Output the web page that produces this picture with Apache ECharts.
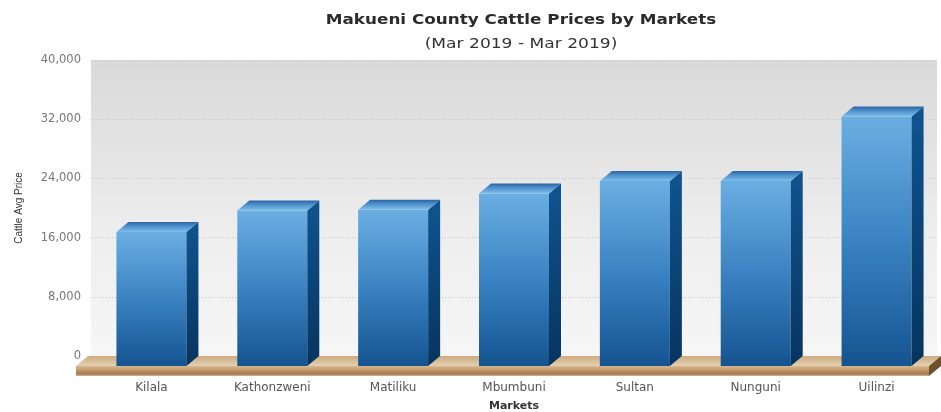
<!DOCTYPE html>
<html>
<head>
<meta charset="utf-8">
<title>Makueni County Cattle Prices by Markets</title>
<script src="https://cdn.jsdelivr.net/npm/echarts@6/dist/echarts.min.js"></script>
<style>
  html, body { margin: 0; padding: 0; background: #ffffff; }
  #chart { width: 941px; height: 412px; }
</style>
</head>
<body>
<div id="chart"></div>
<script>
// Market names along the category axis
const markets = ['Kilala', 'Kathonzweni', 'Matiliku', 'Mbumbuni', 'Sultan', 'Nunguni', 'Uilinzi'];
// Average cattle price per market (KES)
const avgPrices = [18100, 21000, 21100, 23300, 25000, 25000, 33700];
// Value axis ticks
const priceTicks = [0, 8000, 16000, 24000, 32000, 40000];

const chartTitle = 'Makueni County Cattle Prices by Markets';
const chartSubtitle = '(Mar 2019 - Mar 2019)';

// Pseudo-3D extrusion: front faces sit DX left / DY below the back wall
const DX = 12;
const DY = 10;
const BAR_W = 70;

const LG = echarts.graphic.LinearGradient;

const chart = echarts.init(document.getElementById('chart'), null, { renderer: 'canvas' });

function renderBar(params, api) {
  const i = api.value(0);
  const v = api.value(1);
  const topPt = api.coord([i, v]);
  const basePt = api.coord([i, 0]);
  const half = BAR_W / 2;
  const x0 = topPt[0] - half;
  const x1 = topPt[0] + half;
  const y0 = topPt[1] + DY;
  const y1 = basePt[1] + DY;
  return {
    type: 'group',
    children: [
      {
        type: 'rect',
        shape: { x: x0, y: y0, width: BAR_W, height: y1 - y0 },
        style: {
          fill: new LG(0, 0, 0, 1, [
            { offset: 0, color: '#6aaee2' },
            { offset: 0.5, color: '#3a82c2' },
            { offset: 1, color: '#145490' }
          ])
        }
      },
      {
        type: 'polygon',
        shape: { points: [[x1, y0], [x1 + DX, y0 - DY], [x1 + DX, y1 - DY], [x1, y1]] },
        style: {
          fill: new LG(0, 0, 0, 1, [
            { offset: 0, color: '#0f5490' },
            { offset: 1, color: '#07345f' }
          ])
        }
      },
      {
        type: 'polygon',
        shape: { points: [[x0, y0], [x0 + DX, y0 - DY], [x1 + DX, y0 - DY], [x1, y0]] },
        style: {
          fill: new LG(0, 1, 0, 0, [
            { offset: 0, color: '#80bfeb' },
            { offset: 0.6, color: '#4d8fcb' },
            { offset: 1, color: '#2a66a3' }
          ])
        }
      }
    ]
  };
}

function renderFloor(params, api) {
  const cs = params.coordSys;
  const left = cs.x;
  const right = cs.x + cs.width;
  const yb = cs.y + cs.height;
  const lx = left - 3;
  const rx = right + 4;
  return {
    type: 'group',
    children: [
      {
        type: 'polygon',
        shape: { points: [[lx, yb], [rx, yb], [rx - DX, yb + DY], [lx - DX, yb + DY]] },
        style: {
          fill: new LG(0, 0, 0, 1, [
            { offset: 0, color: '#cdab80' },
            { offset: 1, color: '#e4d0b2' }
          ])
        }
      },
      {
        type: 'rect',
        shape: { x: lx - DX, y: yb + DY, width: rx - lx, height: 10 },
        style: {
          fill: new LG(0, 0, 0, 1, [
            { offset: 0, color: '#d8b990' },
            { offset: 0.55, color: '#b58d60' },
            { offset: 0.8, color: '#a47c50' },
            { offset: 1, color: '#cfb99c' }
          ])
        }
      },
      {
        type: 'polygon',
        shape: { points: [[rx - DX, yb + DY], [rx, yb], [rx, yb + 10], [rx - DX, yb + DY + 10]] },
        style: { fill: '#6e4f2e' }
      }
    ]
  };
}

const option = {
  backgroundColor: '#ffffff',
  animation: false,
  // Title lines are set a little wide to suit the page heading style
  graphic: [
    {
      type: 'text',
      x: 521,
      y: 20,
      scaleX: 1.2,
      style: {
        text: chartTitle,
        fontFamily: 'DejaVu Sans',
        fontSize: 14,
        fontWeight: 'bold',
        fill: '#2b2b2b',
        align: 'center',
        verticalAlign: 'middle'
      }
    },
    {
      type: 'text',
      x: 521,
      y: 44,
      scaleX: 1.22,
      style: {
        text: chartSubtitle,
        fontFamily: 'DejaVu Sans',
        fontSize: 14,
        fill: '#333333',
        align: 'center',
        verticalAlign: 'middle'
      }
    }
  ],
  grid: {
    left: 91,
    right: 4,
    top: 60,
    bottom: 56,
    outerBoundsMode: 'none',
    show: true,
    borderWidth: 0,
    backgroundColor: new LG(0, 0, 0, 1, [
      { offset: 0, color: '#d9d9d9' },
      { offset: 0.6, color: '#eeeeee' },
      { offset: 1, color: '#f6f6f6' }
    ])
  },
  xAxis: {
    type: 'category',
    data: markets,
    name: 'Markets',
    nameLocation: 'middle',
    nameGap: 45,
    nameTextStyle: { fontFamily: 'DejaVu Sans', fontSize: 11, fontWeight: 'bold', color: '#333333' },
    axisLine: { show: false },
    axisTick: { show: false },
    axisLabel: { margin: 26, fontFamily: 'DejaVu Sans', fontSize: 12, color: '#555555' },
    splitLine: { show: false }
  },
  yAxis: {
    type: 'value',
    min: priceTicks[0],
    max: priceTicks[priceTicks.length - 1],
    interval: priceTicks[1] - priceTicks[0],
    name: 'Cattle Avg Price',
    nameLocation: 'middle',
    nameGap: 67,
    nameTextStyle: { fontFamily: 'Liberation Sans', fontSize: 10, color: '#333333' },
    axisLine: { show: false },
    axisTick: { show: false },
    axisLabel: {
      margin: 10,
      fontFamily: 'DejaVu Sans',
      fontSize: 11.5,
      color: '#777777',
      formatter: (v) => v.toLocaleString('en-US')
    },
    splitLine: { show: true, lineStyle: { color: '#c4c4c4', width: 1, type: [1, 2] } }
  },
  series: [
    {
      name: 'floor',
      type: 'custom',
      renderItem: renderFloor,
      data: [[0, 0]],
      z: 1,
      silent: true
    },
    {
      name: 'Cattle Avg Price',
      type: 'custom',
      renderItem: renderBar,
      data: avgPrices.map((v, i) => [i, v]),
      encode: { x: 0, y: 1 },
      z: 3
    }
  ]
};

chart.setOption(option);
</script>
</body>
</html>
